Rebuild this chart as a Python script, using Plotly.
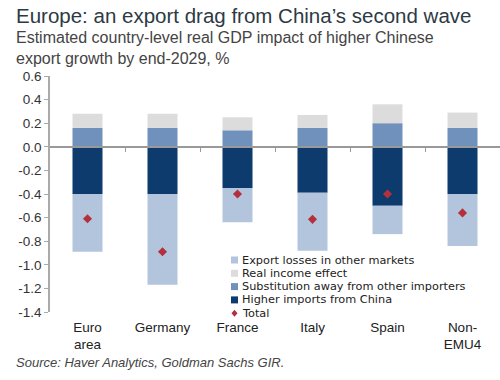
import plotly.graph_objects as go

categories = ["Euro<br>area", "Germany", "France", "Italy", "Spain", "Non-<br>EMU4"]
higher_imports = [-0.40, -0.40, -0.35, -0.39, -0.50, -0.40]
export_losses = [-0.49, -0.77, -0.29, -0.49, -0.24, -0.44]
substitution = [0.16, 0.16, 0.14, 0.16, 0.20, 0.16]
real_income = [0.12, 0.12, 0.11, 0.11, 0.16, 0.13]
total = [-0.61, -0.89, -0.40, -0.615, -0.40, -0.56]
y_ticks = [0.6, 0.4, 0.2, 0.0, -0.2, -0.4, -0.6, -0.8, -1.0, -1.2, -1.4]

legend_labels = ["Export losses in other markets", "Real income effect",
                 "Substitution away from other importers", "Higher imports from China", "Total"]

C_HIGHER = "#0d3b6e"
C_EXPORT = "#b3c5dd"
C_SUBST = "#6f91bb"
C_REAL = "#dcdcdc"
C_TOTAL = "#b3303c"

font_family = "Liberation Sans, Arial, sans-serif"
legend_family = "DejaVu Sans, Liberation Sans, sans-serif"
x = list(range(len(categories)))

W, H = 500, 380
L, R, T, B = 50, 0, 76, 68
PW, PH = W - L - R, H - T - B


def px_to_paper(px, py):
    return (px - L) / PW, (H - B - py) / PH


fig = go.Figure()
fig.add_trace(go.Bar(x=x, y=higher_imports, name=legend_labels[3],
                     marker_color=C_HIGHER, width=0.4, marker_line_width=0))
fig.add_trace(go.Bar(x=x, y=export_losses, name=legend_labels[0],
                     marker_color=C_EXPORT, width=0.4, marker_line_width=0))
fig.add_trace(go.Bar(x=x, y=substitution, name=legend_labels[2],
                     marker_color=C_SUBST, width=0.4, marker_line_width=0))
fig.add_trace(go.Bar(x=x, y=real_income, name=legend_labels[1],
                     marker_color=C_REAL, width=0.4, marker_line_width=0))
fig.add_trace(go.Scatter(x=x, y=total, name=legend_labels[4], mode="markers",
                         marker=dict(symbol="diamond", size=7, color=C_TOTAL)))
# helper axis for the zero line with category separators
fig.add_trace(go.Scatter(x=[-0.5, 5.5], y=[0, 0], xaxis="x2", mode="lines",
                         line=dict(width=0), showlegend=False, hoverinfo="skip"))

fig.update_layout(
    width=W, height=H,
    margin=dict(l=L, r=R, t=T, b=B),
    paper_bgcolor="white", plot_bgcolor="white",
    barmode="relative",
    showlegend=False,
    font=dict(family=font_family, size=12, color="#333333"),
    xaxis=dict(range=[-0.5, 5.5], tickvals=x, ticktext=categories,
               showline=False, showgrid=False, zeroline=False, ticks="",
               ticklabelstandoff=5,
               tickfont=dict(size=13.5, color="#222222")),
    xaxis2=dict(range=[-0.5, 5.5], overlaying="x", anchor="free", position=0.7,
                tickvals=[0.5, 1.5, 2.5, 3.5, 4.5], ticks="outside", ticklen=4,
                tickcolor="#999999", showticklabels=False, showline=True,
                linecolor="#999999", linewidth=1.5, showgrid=False, zeroline=False),
    yaxis=dict(range=[-1.4, 0.6], tickvals=y_ticks,
               ticktext=[f"{v:.1f}" for v in y_ticks],
               showline=True, linecolor="#aaaaaa", linewidth=1.5,
               ticks="outside", ticklen=4, tickcolor="#aaaaaa",
               showgrid=False, zeroline=False,
               tickfont=dict(size=13.5, color="#333333")),
)

# compact legend, rows ~13.3 px apart as in the reference
legend_colors = [C_EXPORT, C_REAL, C_SUBST, C_HIGHER]
row0, step = 260, 13.3
for i, lab in enumerate(legend_labels):
    py = row0 + i * step
    tx, ty = px_to_paper(241, py)
    fig.add_annotation(text=lab, xref="paper", yref="paper", x=tx, y=ty,
                       xanchor="left", yanchor="middle", showarrow=False,
                       borderpad=0,
                       font=dict(size=11.3, color="#222222", family=legend_family))
    if i < 4:
        x0, y0 = px_to_paper(231, py - 3.5)
        x1, y1 = px_to_paper(238, py + 3.5)
        fig.add_shape(type="rect", xref="paper", yref="paper", x0=x0, x1=x1, y0=y1, y1=y0,
                      fillcolor=legend_colors[i], line=dict(width=0))
    else:
        cx, cy = 234.5, py
        pts = [px_to_paper(cx, cy - 3.5), px_to_paper(cx + 3, cy),
               px_to_paper(cx, cy + 3.5), px_to_paper(cx - 3, cy)]
        path = "M " + " L ".join(f"{a},{b}" for a, b in pts) + " Z"
        fig.add_shape(type="path", xref="paper", yref="paper", path=path,
                      fillcolor=C_TOTAL, line=dict(width=0))

tx, ty = px_to_paper(14, 15)
fig.add_annotation(text="Europe: an export drag from China’s second wave",
                   xref="paper", yref="paper", x=tx, y=ty, xanchor="left", yanchor="middle",
                   showarrow=False, font=dict(size=20.5, color="#2d3a44", family=font_family))
tx, ty = px_to_paper(14, 48)
fig.add_annotation(text="Estimated country-level real GDP impact of higher Chinese<br>export growth by end-2029, %",
                   xref="paper", yref="paper", x=tx, y=ty, xanchor="left", yanchor="middle",
                   align="left", showarrow=False,
                   font=dict(size=16, color="#444444", family=font_family))
tx, ty = px_to_paper(14, 362)
fig.add_annotation(text="<i>Source: Haver Analytics, Goldman Sachs GIR.</i>",
                   xref="paper", yref="paper", x=tx, y=ty, xanchor="left", yanchor="middle",
                   showarrow=False, font=dict(size=13, color="#444444", family=font_family))

fig.write_html("out.html", config={"displayModeBar": False},
               post_script="document.body.style.margin='0';")
